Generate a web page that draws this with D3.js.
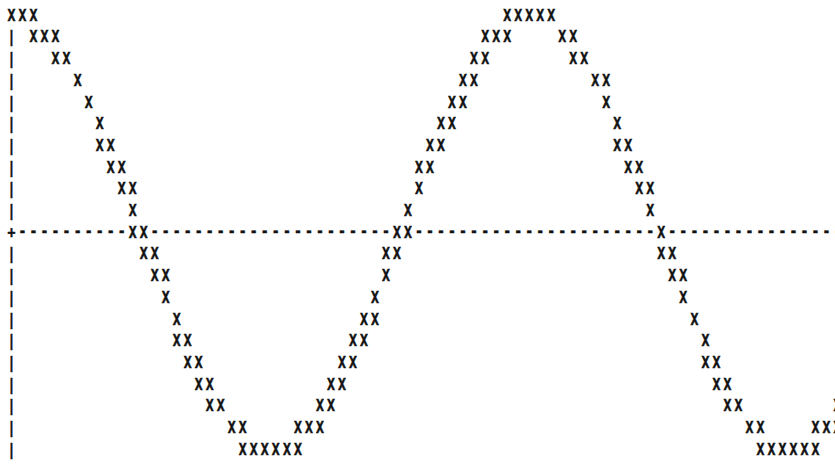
<!DOCTYPE html>
<html>
<head>
<meta charset="utf-8">
<script src="https://cdn.jsdelivr.net/npm/d3@7"></script>
<style>
  body { margin: 0; background: #fff; }
  text { font-family: "DejaVu Sans Mono", "Liberation Mono", monospace; font-weight: bold; fill: #111; stroke: #111; stroke-width: 0.5px; }
</style>
</head>
<body>
<div id="plot"></div>
<script>
// one entry per printed row, top to bottom
let levels = [10, 9, 8, 7, 6, 5, 4, 3, 2, 1, 0, -1, -2, -3, -4, -5, -6, -7, -8, -9, -10];

// columns holding an "X" on each row
let rowCols = [
    [0, 1, 2, 45, 46, 47, 48, 49],
    [2, 3, 4, 43, 44, 45, 50, 51],
    [4, 5, 42, 43, 51, 52],
    [6, 41, 42, 53, 54],
    [7, 40, 41, 54],
    [8, 39, 40, 55],
    [8, 9, 38, 39, 55, 56],
    [9, 10, 37, 38, 56, 57],
    [10, 11, 37, 57, 58],
    [11, 36, 58],
    [11, 12, 35, 36, 59],
    [12, 13, 34, 35, 59, 60],
    [13, 14, 34, 60, 61],
    [14, 33, 61],
    [15, 32, 33, 62],
    [15, 16, 31, 32, 63],
    [16, 17, 30, 31, 63, 64],
    [17, 18, 29, 30, 64, 65],
    [18, 19, 28, 29, 65, 66, 75],
    [20, 21, 26, 27, 28, 67, 68, 73, 74, 75],
    [21, 22, 23, 24, 25, 26, 68, 69, 70, 71, 72, 73]
];

let lastCol = 76;

let width = 835, height = 464;

let svg = d3.select("#plot")
    .append("svg")
    .attr("width", width)
    .attr("height", height);

let xScale = d3.scaleLinear().domain([0, 74]).range([11.5, 826.5]);
let yScale = d3.scaleLinear().domain([10, -10]).range([15, 449]);

// build the character grid: X marks, the y axis bars and the zero line
let cells = [];
levels.forEach((lev, i) => {
    let cols = rowCols[i];
    cols.forEach(c => cells.push({col: c, level: lev, ch: "X"}));
    if (lev === 0) {
        if (cols.indexOf(0) < 0) cells.push({col: 0, level: lev, ch: "+"});
        for (let c = 1; c <= lastCol; c++) {
            if (cols.indexOf(c) < 0) cells.push({col: c, level: lev, ch: "-"});
        }
    } else if (cols.indexOf(0) < 0) {
        cells.push({col: 0, level: lev, ch: "|"});
    }
});

svg.selectAll("text.cell")
    .data(cells)
    .enter()
    .append("text")
    .attr("class", "cell")
    .attr("transform", d => "translate(" + xScale(d.col) + "," + yScale(d.level) + ") scale(0.82,1)")
    .attr("text-anchor", "middle")
    .attr("dy", d => d.ch === "-" ? "0.28em" : "0.36em")
    .attr("font-size", 16)
    .text(d => d.ch);
</script>
</body>
</html>
